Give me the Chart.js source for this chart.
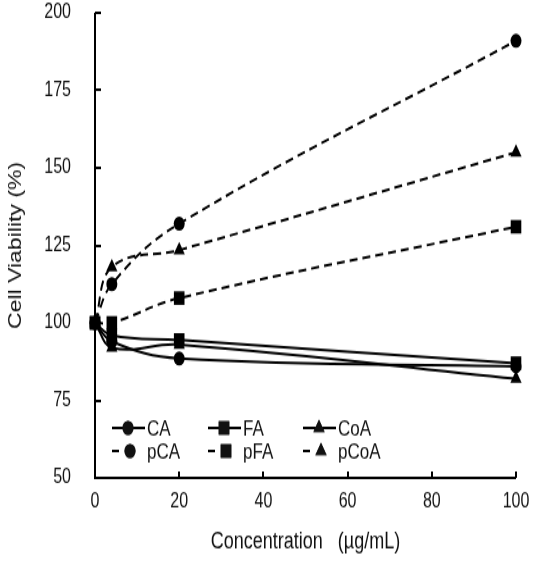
<!DOCTYPE html>
<html>
<head>
<meta charset="utf-8">
<script src="https://cdn.jsdelivr.net/npm/chart.js@4/dist/chart.umd.min.js"></script>
<style>
  html, body { margin: 0; padding: 0; background: #fff; }
  /* la figura original está estirada en vertical: se dibuja a 441 px y se muestra a 565 px */
  #chart { display: block; width: 539px; height: 565px; }
</style>
</head>
<body>
<canvas id="chart" width="539" height="441" style="width:539px;height:565px"></canvas>
<script>
// Concentraciones (µg/mL) y viabilidad celular (%)
const conc = [0, 4, 20, 100];
const seriesNames = ['CA', 'FA', 'CoA', 'pCA', 'pFA', 'pCoA'];
const valCA   = [100, 94, 88.5, 86];
const valFA   = [100, 96, 94.5, 87];
const valCoA  = [100, 92, 93, 82];
const valpCA  = [100, 112.5, 132, 191];
const valpFA  = [100, 100, 108, 131];
const valpCoA = [100, 118, 123.5, 155];
const yTicks = [50, 75, 100, 125, 150, 175, 200];
const xTicks = [0, 20, 40, 60, 80, 100];

const allVals = [valCA, valFA, valCoA, valpCA, valpFA, valpCoA];
const shapes = ['circle', 'rect', 'triangle', 'circle', 'rect', 'triangle'];
const radii = { circle: 5.5, rect: 7.5, triangle: 6.5 };

const font = "Arial, 'Liberation Sans', sans-serif";

const datasets = seriesNames.map((name, i) => ({
  label: name,
  data: conc.map((x, j) => ({ x: x, y: allVals[i][j] })),
  showLine: true,
  borderColor: '#000',
  backgroundColor: '#000',
  borderWidth: 2,
  borderDash: i >= 3 ? [8, 5] : [],
  tension: 0.4,
  pointStyle: shapes[i],
  pointRadius: radii[shapes[i]],
  pointBorderWidth: 0,
  clip: false
}));

// ejes con ticks hacia dentro y leyenda dentro del área del gráfico
const extras = {
  id: 'extras',
  afterDraw(chart) {
    const c = chart.ctx;
    const xs = chart.scales.x, ys = chart.scales.y;
    const area = chart.chartArea;
    c.save();
    c.strokeStyle = '#000';
    c.lineWidth = 2;
    c.setLineDash([]);
    c.beginPath();
    c.moveTo(area.left, area.top);
    c.lineTo(area.left, area.bottom);
    c.lineTo(area.right, area.bottom);
    c.stroke();
    c.beginPath();
    yTicks.forEach(v => {
      const py = Math.round(ys.getPixelForValue(v));
      c.moveTo(area.left, py); c.lineTo(area.left + 6, py);
    });
    xTicks.slice(1).forEach(v => {
      const px = Math.round(xs.getPixelForValue(v));
      c.moveTo(px, area.bottom); c.lineTo(px, area.bottom - 5);
    });
    c.stroke();

    // leyenda
    const colX = [area.left + 17, area.left + 113, area.left + 208];
    const rowY = [area.bottom - 39, area.bottom - 21];
    c.font = '17px ' + font;
    c.textBaseline = 'middle';
    c.fillStyle = '#111';
    seriesNames.forEach((name, i) => {
      const x0 = colX[i % 3], y0 = rowY[Math.floor(i / 3)];
      const dashed = i >= 3;
      c.lineWidth = 2;
      c.beginPath();
      if (dashed) { c.moveTo(x0, y0); c.lineTo(x0 + 7, y0); }
      else { c.moveTo(x0, y0); c.lineTo(x0 + 33, y0); }
      c.stroke();
      const r = radii[shapes[i]];
      Chart.helpers.drawPoint(c, { pointStyle: shapes[i], radius: r, borderWidth: 0 }, x0 + (dashed ? 18 : 16), y0);
      c.fill();
      c.fillText(name, x0 + 35, y0 + 1);
    });
    c.restore();
  }
};

new Chart(document.getElementById('chart').getContext('2d'), {
  type: 'scatter',
  data: { datasets: datasets },
  options: {
    responsive: false,
    devicePixelRatio: 1,
    animation: false,
    layout: { padding: { top: 10, right: 23, left: 0, bottom: 0 } },
    plugins: { legend: { display: false }, tooltip: { enabled: false } },
    scales: {
      x: {
        type: 'linear', min: 0, max: 100,
        afterBuildTicks: s => { s.ticks = xTicks.map(v => ({ value: v })); },
        afterFit: s => { s.height = 68; s.paddingLeft = 0; s.paddingRight = 0; },
        grid: { display: false, drawTicks: false },
        border: { display: false },
        ticks: { color: '#111', padding: 9, font: { family: font, size: 16 } },
        title: { display: true, text: 'Concentration   (µg/mL)', color: '#111',
                 padding: { top: 0, bottom: 7 }, font: { family: font, size: 18 } }
      },
      y: {
        type: 'linear', min: 50, max: 200,
        afterBuildTicks: s => { s.ticks = yTicks.map(v => ({ value: v })); },
        afterFit: s => { s.width = 95; s.paddingTop = 0; s.paddingBottom = 0; },
        grid: { display: false, drawTicks: false },
        border: { display: false },
        ticks: { color: '#111', padding: 24, font: { family: font, size: 16 } },
        title: { display: true, text: 'Cell Viability (%)', color: '#111',
                 padding: { top: 5, bottom: 0 }, font: { family: font, size: 18 } }
      }
    }
  },
  plugins: [extras]
});
</script>
</body>
</html>
